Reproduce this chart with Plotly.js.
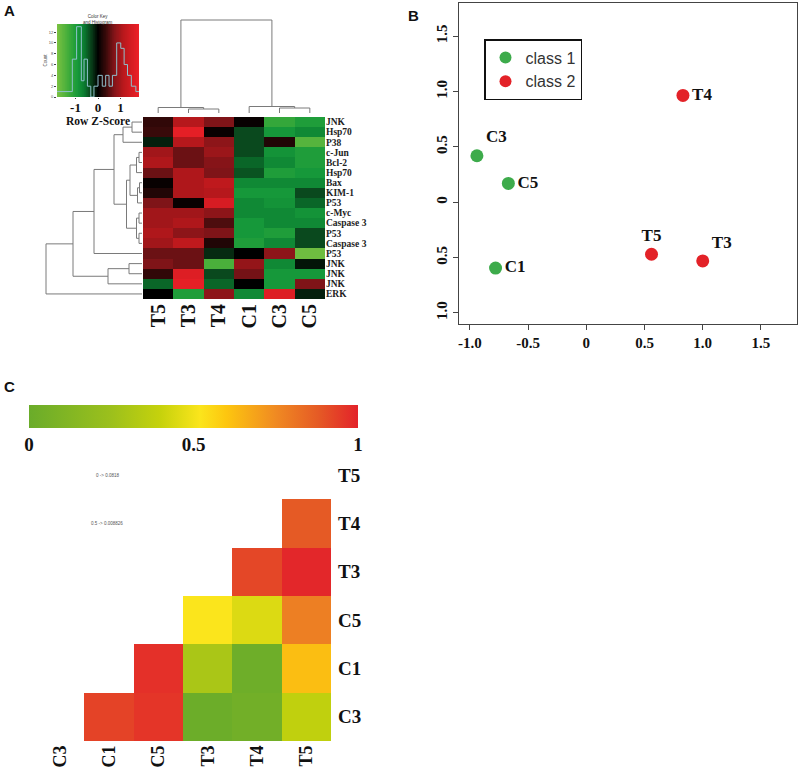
<!DOCTYPE html>
<html><head><meta charset="utf-8">
<script src="https://cdn.plot.ly/plotly-3.0.1.min.js"></script>
<style>html,body{margin:0;padding:0;background:#fff}#chart{width:800px;height:769px}</style>
</head><body><div id="chart"></div>
<script>
// ---------- Panel A: heatmap of row z-scores ----------
const rowLabels = ["JNK","Hsp70","P38","c-Jun","Bcl-2","Hsp70","Bax","KIM-1","P53","c-Myc","Caspase 3","P53","Caspase 3","P53","JNK","JNK","JNK","ERK"];
const colLabels = ["T5","T3","T4","C1","C3","C5"];
const zT5 = [0.3,0.35,-0.15,0.95,1.05,0.6,0.05,0.2,0.7,0.95,0.95,1.05,0.95,0.6,0.7,0.3,-0.5,0];
const zT3 = [1.1,1.7,1.1,0.6,0.6,1.05,1.05,1.05,0.05,0.95,1.05,0.8,1.2,0.6,0.6,1.6,1.7,-1.0];
const zT4 = [0.7,0.05,0.8,0.9,0.75,0.7,1.2,1.1,1.5,0.8,0.45,0.7,0.2,-0.2,-1.4,-0.35,-0.5,0.8];
const zC1 = [0.05,-0.35,-0.35,-0.35,-0.5,-0.4,-0.75,-0.9,-0.75,-0.75,-0.9,-0.9,-1.0,0,0.85,0.65,0,-0.75];
const zC3 = [-1.2,-0.9,0.2,-0.85,-0.75,-1.0,-0.75,-0.9,-0.85,-0.75,-0.75,-1.0,-0.75,0.8,-0.75,-0.9,-0.9,1.6];
const zC5 = [-1.0,-0.75,-1.5,-1.0,-1.0,-0.9,-0.75,-0.35,-0.5,-0.85,-0.75,-0.35,-0.35,-1.7,-0.1,-0.9,0.7,-0.15];

// row dendrogram (hclust-style merges; negative = leaf row number)
const rowMergeL = [-1,1,-4,3,-7,5,4,-10,-12,8,7,2,12,-15,14,13,16];
const rowMergeR = [-2,-3,-5,-6,-8,-9,6,-11,-13,9,10,11,-14,-16,-17,15,-18];
const rowHeights = [1.0,1.9,0.3,0.55,0.25,0.45,1.2,0.3,0.3,0.55,1.55,2.8,4.8,1.3,3.4,6.9,9.6];
// column dendrogram
const colMergeL = [-2,-1,-5,-4,2];
const colMergeR = [-3,1,-6,3,4];
const colHeights = [0.4,0.55,0.5,0.65,9.3];

// colour key histogram
const keyBreaks = [-1.82,-1.14,-0.95,-0.74,-0.62,-0.47,-0.32,-0.18,0,0.19,0.34,0.49,0.64,0.83,1.01,1.16,1.31,1.48,1.68,1.82];
const keyCounts = [1,7,13,3,7,2,0,2,4,2,4,2,4,10,9,6,4,2,1];
const keyTicks = [0,2,4,6,8,10,12];

// ---------- Panel B: PCA ----------
const pcaLabels = ["C3","C5","C1","T5","T3","T4"];
const pcaClass = [1,1,1,2,2,2];
const pcaX = [-0.94,-0.67,-0.78,0.56,1.0,0.83];
const pcaY = [0.42,0.17,-0.595,-0.47,-0.53,0.965];
const pcaXTicks = [-1,-0.5,0,0.5,1,1.5];
const pcaXTickText = ["-1.0","-0.5","0","0.5","1.0","1.5"];
const pcaYTicks = [-1,-0.5,0,0.5,1,1.5];
const pcaYTickText = ["1.0","0.5","0","0.5","1.0","1.5"];

// ---------- Panel C: correlation matrix ----------
const simLabels = ["C3","C1","C5","T3","T4","T5"];
const simRowC3 = [null,0.93,0.96,0.01,0.04,0.38];
const simRowC1 = [null,null,0.97,0.30,0.02,0.62];
const simRowC5 = [null,null,null,0.52,0.45,0.78];
const simRowT3 = [null,null,null,null,0.92,0.99];
const simRowT4 = [null,null,null,null,null,0.88];
const simRowT5 = [null,null,null,null,null,null];

// ---------- helpers ----------
const W = 800, H = 769;
const px = (a,b) => [a/W, b/W];
const py = (top,bottom) => [1-bottom/H, 1-top/H];
const SERIF = "Liberation Serif, Times New Roman, serif";
const SANS = "Liberation Sans, Arial, sans-serif";

function dendro(L, R, Hs) {
  const pos = [], hh = [], a = [], b = [];
  const p = n => n < 0 ? -n-1 : pos[n-1];
  const h = n => n < 0 ? 0 : hh[n-1];
  for (let i = 0; i < L.length; i++) {
    const pl = p(L[i]), pr = p(R[i]), hl = h(L[i]), hr = h(R[i]);
    a.push(pl, pl, pr, pr, null); b.push(hl, Hs[i], Hs[i], hr, null);
    pos.push((pl+pr)/2); hh.push(Hs[i]);
  }
  return {pos: a, h: b};
}

const zColor = [[0,'#7cc242'],[0.139,'#40ac3a'],[0.25,'#16993a'],[0.333,'#0a7a30'],[0.403,'#0a4a1e'],[0.5,'#000000'],[0.597,'#3a0a0a'],[0.694,'#801418'],[0.806,'#b8181c'],[1,'#ee2028']];
const simColor = [[0,'#6aac2a'],[0.25,'#9cc01c'],[0.4,'#c6d20c'],[0.52,'#fbe51c'],[0.6,'#fdc60f'],[0.75,'#f08a22'],[0.88,'#e55a25'],[1,'#e3222a']];

const zCols = [zT5,zT3,zT4,zC1,zC3,zC5];
const zMat = rowLabels.map((_, r) => zCols.map(c => c[r]));
const rowIdx = rowLabels.map((_, i) => i);
const colIdx = colLabels.map((_, i) => i);

const rd = dendro(rowMergeL, rowMergeR, rowHeights);
const cd = dendro(colMergeL, colMergeR, colHeights);

// gradient for colour key
const gradEdges = [], gradZ = [];
for (let i = 0; i <= 120; i++) gradEdges.push(-1.82 + 3.64*i/120);
for (let i = 0; i < 120; i++) gradZ.push((gradEdges[i]+gradEdges[i+1])/2);

const traces = [];
traces.push({type:'heatmap', x: colIdx, y: rowIdx, z: zMat, colorscale: zColor, zmin:-1.82, zmax:1.82, showscale:false, xaxis:'x', yaxis:'y', hoverinfo:'skip'});
traces.push({type:'scatter', mode:'lines', x: cd.pos, y: cd.h, line:{color:'#7a7a7a', width:1}, xaxis:'x2', yaxis:'y2', showlegend:false, hoverinfo:'skip'});
traces.push({type:'scatter', mode:'lines', x: rd.h, y: rd.pos, line:{color:'#7a7a7a', width:1}, xaxis:'x3', yaxis:'y3', showlegend:false, hoverinfo:'skip'});
traces.push({type:'heatmap', x: gradEdges, y: [0, 13.5], z: [gradZ], colorscale: zColor, zmin:-1.82, zmax:1.82, showscale:false, xaxis:'x4', yaxis:'y4', hoverinfo:'skip'});
traces.push({type:'scatter', mode:'lines', x: keyBreaks, y: keyCounts.concat([keyCounts[keyCounts.length-1]]), line:{shape:'hv', color:'#8fc0cc', width:1}, xaxis:'x4', yaxis:'y4', showlegend:false, hoverinfo:'skip'});

const pcaTextPos = ["top right","middle right","middle right","top center","top right","middle right"];
[1,2].forEach(k => {
  const idx = pcaClass.map((c,i) => c===k ? i : -1).filter(i => i>=0);
  traces.push({type:'scatter', mode:'markers+text', name:'class '+k,
    x: idx.map(i=>pcaX[i]), y: idx.map(i=>pcaY[i]), text: idx.map(i=>pcaLabels[i]),
    textposition: idx.map(i=>pcaTextPos[i]),
    textfont:{family:SERIF, size:17, weight:'bold', color:'#111'},
    marker:{size:13, color: k===1 ? '#3dab4b' : '#e32228'},
    xaxis:'x5', yaxis:'y5', cliponaxis:false, hoverinfo:'skip'});
});

traces.push({type:'heatmap', x: simLabels.map((_,i)=>i), y: simLabels.map((_,i)=>i),
  z: [simRowC3, simRowC1, simRowC5, simRowT3, simRowT4, simRowT5],
  colorscale: simColor, zmin:0, zmax:1, xaxis:'x6', yaxis:'y6', hoverinfo:'skip',
  colorbar:{orientation:'h', x:193.5/W, xanchor:'center', y:1-405/H, yanchor:'top',
    len:329, lenmode:'pixels', thickness:23, thicknessmode:'pixels', xpad:0, ypad:0,
    tickvals:[0,0.5,1], ticktext:['0','0.5','1'], ticks:'', outlinewidth:0,
    tickfont:{family:SERIF, size:19, weight:'bold', color:'#111'}}});

const noGrid = {showgrid:false, zeroline:false};
const panelFont = {family:SANS, size:15, weight:'bold', color:'#111'};
const layout = {
  width: W, height: H, margin:{l:0,r:0,t:0,b:0}, paper_bgcolor:'#fff', plot_bgcolor:'rgba(0,0,0,0)',
  showlegend: true,
  legend:{x:484/W, y:1-39/H, xanchor:'left', yanchor:'top', bordercolor:'#111', borderwidth:1.5, bgcolor:'#fff',
    font:{family:SANS, size:16, color:'#333'}, tracegroupgap:0, itemsizing:'constant'},
  xaxis: Object.assign({domain: px(143,325), range:[-0.5,5.5], tickvals: colIdx, ticktext: colLabels, tickangle:-90, ticks:'',
    tickfont:{family:SERIF, size:20, weight:'bold', color:'#111'}, anchor:'y'}, noGrid),
  yaxis: Object.assign({domain: py(117,299), range:[17.5,-0.5], tickvals: rowIdx, ticktext: rowLabels, side:'right', ticks:'',
    tickfont:{family:SERIF, size:9.5, weight:'bold', color:'#222'}, anchor:'x'}, noGrid),
  xaxis2: Object.assign({domain: px(143,325), range:[-0.5,5.5], showticklabels:false, anchor:'y2'}, noGrid),
  yaxis2: Object.assign({domain: py(18,113), range:[0,9.5], showticklabels:false, anchor:'x2'}, noGrid),
  xaxis3: Object.assign({domain: px(40,142), range:[10.2,0], showticklabels:false, anchor:'y3'}, noGrid),
  yaxis3: Object.assign({domain: py(117,299), range:[17.5,-0.5], showticklabels:false, anchor:'x3'}, noGrid),
  xaxis4: Object.assign({domain: px(57,139), range:[-1.82,1.82], tickvals:[-1,0,1], ticktext:['-1','0','1'], ticks:'outside', ticklen:1,
    ticklabelstandoff:-3,
    tickfont:{family:SERIF, size:13, weight:'bold', color:'#111'}, anchor:'y4',
    title:{text:'Row Z-Score', font:{family:SERIF, size:11.5, weight:'bold', color:'#111'}, standoff:0}}, noGrid),
  yaxis4: Object.assign({domain: py(24,97), range:[0,13.5], tickvals:keyTicks, ticks:'outside', ticklen:2,
    tickfont:{family:SANS, size:4, color:'#555'}, anchor:'x4',
    title:{text:'Count', font:{family:SANS, size:4.5, color:'#555'}, standoff:1}}, noGrid),
  xaxis5: Object.assign({domain: px(459,797), range:[-1.094,1.81], tickvals:pcaXTicks, ticktext:pcaXTickText, ticks:'outside', ticklen:5,
    showline:true, mirror:true, linecolor:'#444', linewidth:1,
    tickfont:{family:SERIF, size:15, weight:'bold', color:'#111'}, anchor:'y5'}, noGrid),
  yaxis5: Object.assign({domain: py(3,324), range:[-1.10,1.80], tickvals:pcaYTicks, ticktext:pcaYTickText, ticks:'outside', ticklen:5,
    showline:true, mirror:true, linecolor:'#444', linewidth:1, tickangle:-90,
    tickfont:{family:SERIF, size:15, weight:'bold', color:'#111'}, anchor:'x5'}, noGrid),
  xaxis6: Object.assign({domain: px(35,331), range:[-0.5,5.5], tickvals: simLabels.map((_,i)=>i), ticktext: simLabels, tickangle:-90, ticks:'',
    tickfont:{family:SERIF, size:18, weight:'bold', color:'#111'}, anchor:'y6'}, noGrid),
  yaxis6: Object.assign({domain: py(451,741), range:[-0.5,5.5], tickvals: simLabels.map((_,i)=>i), ticktext: simLabels, side:'right', ticks:'',
    ticklabelstandoff:6, tickfont:{family:SERIF, size:19, weight:'bold', color:'#111'}, anchor:'x6'}, noGrid),
  annotations: [
    {text:'A', x:9/W, y:1-10/H, xref:'paper', yref:'paper', xanchor:'center', yanchor:'middle', showarrow:false, font:panelFont},
    {text:'B', x:414/W, y:1-16/H, xref:'paper', yref:'paper', xanchor:'center', yanchor:'middle', showarrow:false, font:panelFont},
    {text:'C', x:9/W, y:1-386/H, xref:'paper', yref:'paper', xanchor:'center', yanchor:'middle', showarrow:false, font:panelFont},
    {text:'Color Key<br>and Histogram', x:98/W, y:1-19/H, xref:'paper', yref:'paper', xanchor:'center', yanchor:'middle', showarrow:false, font:{family:SANS, size:4.5, color:'#333'}},
    {text:'0 -> 0.0818', x:107/W, y:1-475/H, xref:'paper', yref:'paper', xanchor:'center', yanchor:'middle', showarrow:false, font:{family:SANS, size:4.5, color:'#555'}},
    {text:'0.5 -> 0.008826', x:107/W, y:1-523/H, xref:'paper', yref:'paper', xanchor:'center', yanchor:'middle', showarrow:false, font:{family:SANS, size:4.5, color:'#555'}}
  ]
};
Plotly.newPlot('chart', traces, layout, {staticPlot:true});
</script></body></html>
